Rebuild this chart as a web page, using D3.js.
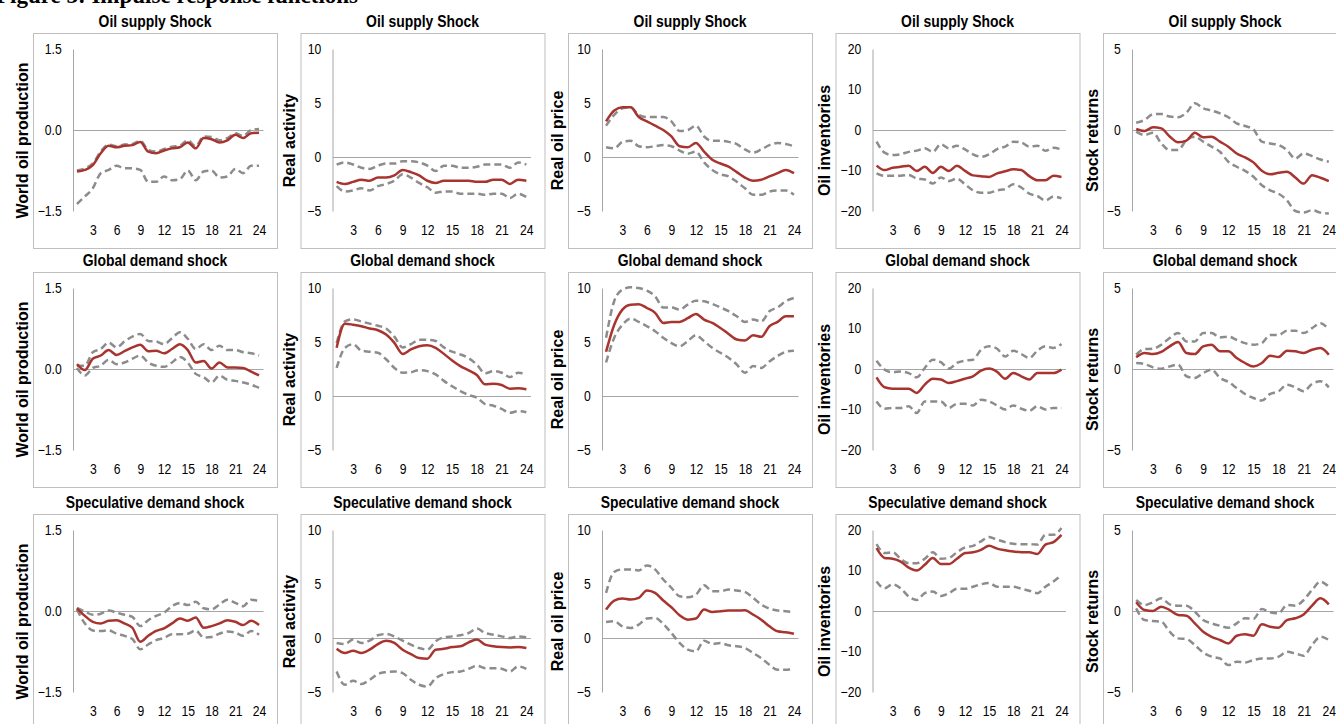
<!DOCTYPE html>
<html>
<head>
<meta charset="utf-8">
<script src="https://cdn.jsdelivr.net/npm/d3@7"></script>
<style>
    body { margin: 0; background: #fff; }
    svg { display: block; }
    .tick text { font-family: 'Liberation Sans', Arial, sans-serif; font-size: 14px; fill: #000; }
    .panel-title { font-family: 'Liberation Sans', Arial, sans-serif; font-size: 16px; font-weight: bold; }
    .var-label { font-family: 'Liberation Sans', Arial, sans-serif; font-size: 16px; font-weight: bold; }
</style>
</head>
<body>
<svg id="chart" width="1336" height="724"></svg>
<script>
// Horizons and labels
const horizons = d3.range(1, 25);
const xTickLabels = [3, 6, 9, 12, 15, 18, 21, 24];
const shocks = ['Oil supply Shock', 'Global demand shock', 'Speculative demand shock'];
const variables = ['World oil production', 'Real activity', 'Real oil price', 'Oil inventories', 'Stock returns'];
const yTicks = [[1.5, 0, -1.5], [10, 5, 0, -5], [10, 5, 0, -5], [20, 10, 0, -10, -20], [5, 0, -5]];

// Oil supply shock
const supProdMid = [-0.77,-0.74,-0.65,-0.43,-0.29,-0.32,-0.29,-0.28,-0.22,-0.40,-0.43,-0.38,-0.34,-0.32,-0.23,-0.34,-0.15,-0.17,-0.23,-0.19,-0.09,-0.15,-0.06,-0.05];
const supProdHi  = [-0.75,-0.71,-0.62,-0.40,-0.27,-0.30,-0.27,-0.26,-0.20,-0.37,-0.40,-0.35,-0.31,-0.29,-0.19,-0.30,-0.12,-0.13,-0.19,-0.15,-0.06,-0.11,0.00,0.02];
const supProdLo  = [-1.37,-1.23,-1.08,-0.80,-0.74,-0.66,-0.71,-0.71,-0.74,-0.96,-0.96,-0.86,-0.93,-0.91,-0.75,-0.93,-0.77,-0.75,-0.88,-0.86,-0.72,-0.80,-0.66,-0.66];
const supActMid = [-2.3,-2.5,-2.3,-2.1,-2.2,-1.9,-1.9,-1.7,-1.2,-1.4,-1.7,-2.2,-2.4,-2.2,-2.2,-2.2,-2.2,-2.3,-2.3,-2.1,-2.1,-2.5,-2.1,-2.2];
const supActHi  = [-0.7,-0.5,-0.7,-1.0,-1.1,-0.8,-0.6,-0.6,-0.4,-0.4,-0.5,-0.8,-1.3,-0.8,-0.8,-1.0,-1.0,-0.9,-0.7,-0.7,-0.7,-1.0,-0.5,-0.7];
const supActLo  = [-2.7,-3.2,-3.1,-2.9,-3.1,-2.7,-2.5,-2.2,-1.6,-1.9,-2.4,-2.8,-3.3,-3.2,-3.2,-3.4,-3.4,-3.4,-3.5,-3.4,-3.4,-3.8,-3.4,-3.7];
const supPriceMid = [3.3,4.3,4.6,4.6,3.7,3.3,2.9,2.5,1.9,1.0,0.9,1.3,0.5,-0.25,-0.6,-0.9,-1.4,-1.9,-2.2,-2.1,-1.8,-1.5,-1.2,-1.5];
const supPriceHi  = [2.9,3.9,4.5,4.6,3.9,3.7,3.7,3.7,3.3,2.4,2.5,2.9,1.9,1.5,1.5,1.4,1.2,0.7,0.4,0.7,1.1,1.3,1.2,1.0];
const supPriceLo  = [0.9,0.8,1.4,1.5,1.0,0.9,1.0,1.1,1.0,0.6,0.3,0.5,-0.5,-1.2,-1.6,-1.8,-2.3,-2.9,-3.5,-3.5,-3.2,-3.1,-3.1,-3.5];
const supInvMid = [-8.8,-9.9,-9.3,-9.1,-8.8,-10.1,-9.1,-10.6,-9.1,-10.1,-8.8,-10.1,-11.2,-11.4,-11.6,-10.7,-10.2,-9.7,-9.9,-11.4,-12.4,-12.4,-11.3,-11.6];
const supInvHi  = [-2.9,-5.6,-6.2,-6.0,-5.4,-5.1,-4.5,-5.4,-3.5,-4.5,-3.9,-4.8,-6.0,-6.6,-6.0,-4.7,-4.1,-2.9,-3.1,-4.1,-3.9,-5.1,-4.4,-4.8];
const supInvLo  = [-10.7,-11.3,-11.3,-11.3,-11.1,-12.0,-12.2,-13.2,-11.7,-12.6,-12.0,-13.4,-14.9,-15.5,-15.5,-14.9,-14.6,-13.4,-14.2,-15.7,-16.3,-17.4,-16.4,-16.9];
const supStockMid = [0.06,-0.06,0.17,0.10,-0.40,-0.76,-0.66,-0.17,-0.45,-0.41,-0.72,-1.03,-1.45,-1.69,-2.00,-2.52,-2.73,-2.64,-2.58,-2.93,-3.31,-2.79,-2.95,-3.16];
const supStockHi  = [0.45,0.62,0.97,0.99,0.83,0.79,1.07,1.65,1.34,1.20,1.03,0.79,0.41,0.25,0.04,-0.72,-0.83,-0.93,-1.24,-1.76,-1.45,-1.61,-1.82,-1.96];
const supStockLo  = [-0.10,-0.31,-0.17,-0.83,-1.24,-1.24,-0.62,-0.41,-0.72,-1.03,-1.34,-1.96,-2.27,-2.52,-2.89,-3.41,-3.72,-3.93,-4.34,-5.00,-5.10,-4.95,-5.10,-5.15];

// Global demand shock
const gloProdMid = [0.09,-0.02,0.19,0.25,0.35,0.26,0.33,0.40,0.45,0.33,0.34,0.29,0.37,0.46,0.35,0.12,0.15,0.01,0.12,0.03,0.03,0.02,-0.05,-0.12];
const gloProdHi  = [0.06,0.06,0.31,0.37,0.49,0.40,0.51,0.60,0.65,0.52,0.51,0.46,0.57,0.68,0.56,0.37,0.46,0.35,0.43,0.35,0.35,0.31,0.29,0.25];
const gloProdLo  = [0.02,-0.12,0.02,0.06,0.17,0.09,0.12,0.19,0.25,0.12,0.06,0.04,0.12,0.22,0.12,-0.09,-0.15,-0.25,-0.12,-0.20,-0.22,-0.25,-0.29,-0.35];
const gloActMid = [4.46,6.7,6.6,6.46,6.25,6.09,5.69,4.92,3.9,4.31,4.6,4.7,4.46,3.9,3.29,2.77,2.37,1.94,1.08,1.14,1.02,0.68,0.71,0.62];
const gloActHi  = [4.9,6.9,7.1,6.9,6.7,6.5,6.25,5.5,4.5,4.8,5.2,5.2,5.1,4.5,4.1,3.85,3.5,2.9,2.1,2.3,2.15,1.75,2.15,2.05];
const gloActLo  = [2.6,4.45,4.8,4.2,4.1,4.0,3.4,2.6,2.15,2.2,2.4,2.3,2.0,1.4,0.9,0.45,0.1,-0.15,-0.75,-0.9,-1.2,-1.55,-1.4,-1.5];
const gloPriceMid = [4.1,6.6,8.0,8.46,8.5,8.15,7.7,6.77,6.86,6.86,7.2,7.6,7.08,6.77,6.3,5.75,5.23,5.14,5.63,5.48,6.46,6.86,7.38,7.38];
const gloPriceHi  = [5.4,8.8,9.85,10.06,10.0,9.75,9.23,8.2,8.2,8.0,8.46,8.83,8.77,8.52,8.2,7.85,7.38,6.86,7.08,6.9,7.85,8.2,8.77,9.08];
const gloPriceLo  = [3.1,5.4,6.6,7.17,6.86,6.46,6.0,5.4,4.9,4.6,5.08,5.63,5.08,4.46,4.0,3.54,2.92,2.15,2.77,2.6,3.2,3.7,4.1,4.2];
const gloInvMid = [-2.05,-4.5,-4.85,-4.85,-4.85,-5.9,-3.85,-2.4,-2.6,-3.45,-3.0,-2.4,-1.8,-0.4,0.1,-0.7,-2.4,-1.0,-1.8,-2.6,-1.0,-1.0,-1.0,-0.15];
const gloInvHi  = [2.05,-0.15,-0.8,-0.6,-1.0,-2.05,0.25,2.3,1.7,0.1,1.5,2.05,2.3,4.75,5.6,5.0,3.1,4.5,3.7,2.7,4.5,5.6,5.2,6.2];
const gloInvLo  = [-8.0,-9.8,-9.6,-9.6,-9.2,-10.85,-8.0,-8.0,-8.0,-9.6,-8.6,-8.6,-9.0,-7.6,-8.0,-9.0,-10.0,-9.0,-9.8,-10.3,-9.2,-10.0,-9.6,-9.6];
const gloStockMid = [0.72,0.99,0.92,1.05,1.40,1.66,0.99,0.92,1.40,1.50,1.09,1.09,0.68,0.37,0.16,0.37,0.82,0.74,1.13,1.09,0.99,1.19,1.29,0.88];
const gloStockHi  = [0.88,1.23,1.25,1.50,1.91,2.22,1.70,1.70,2.22,2.22,1.95,2.00,1.80,1.60,1.50,1.60,2.10,2.10,2.36,2.36,2.22,2.52,2.83,2.42];
const gloStockLo  = [0.37,0.31,0.10,0.02,0.16,0.27,-0.45,-0.55,-0.25,-0.04,-0.55,-0.80,-1.17,-1.54,-1.79,-1.95,-1.54,-1.38,-0.97,-1.13,-1.38,-0.92,-0.76,-1.13];

// Speculative demand shock
const spcProdMid = [0.05,-0.09,-0.20,-0.23,-0.18,-0.17,-0.23,-0.31,-0.57,-0.46,-0.37,-0.32,-0.23,-0.14,-0.18,-0.12,-0.31,-0.28,-0.23,-0.17,-0.20,-0.26,-0.18,-0.26];
const spcProdHi  = [0.06,-0.01,-0.07,-0.05,0.01,-0.03,-0.07,-0.11,-0.28,-0.17,-0.09,-0.03,0.09,0.15,0.11,0.17,0.05,0.03,0.12,0.21,0.15,0.09,0.21,0.18];
const spcProdLo  = [0.03,-0.23,-0.36,-0.37,-0.36,-0.42,-0.46,-0.52,-0.71,-0.62,-0.54,-0.50,-0.43,-0.43,-0.42,-0.36,-0.49,-0.48,-0.42,-0.38,-0.40,-0.46,-0.37,-0.44];
const spcActMid = [-1.0,-1.4,-1.18,-1.4,-1.08,-0.56,-0.25,-0.46,-1.08,-1.49,-1.86,-1.92,-1.08,-1.0,-0.84,-0.77,-0.4,-0.15,-0.62,-0.77,-0.84,-0.87,-0.84,-0.93];
const spcActHi  = [-0.46,-0.56,-0.15,-0.46,-0.25,0.25,0.37,0.15,-0.25,-0.62,-0.93,-1.08,-0.31,0.06,0.15,0.25,0.46,0.87,0.46,0.31,0.15,0.0,0.15,0.06];
const spcActLo  = [-3.1,-4.33,-3.96,-4.27,-3.87,-3.34,-3.16,-3.1,-3.25,-3.87,-4.33,-4.49,-3.72,-3.34,-3.16,-3.1,-2.85,-2.57,-2.79,-2.79,-2.85,-3.1,-2.63,-2.85];
const spcPriceMid = [2.63,3.47,3.65,3.56,3.72,4.4,4.18,3.47,2.85,2.1,1.7,1.8,2.63,2.41,2.48,2.54,2.54,2.57,2.17,1.7,1.08,0.62,0.53,0.4];
const spcPriceHi  = [4.18,6.13,6.35,6.35,6.25,6.72,6.35,5.42,4.64,3.87,3.78,4.02,4.89,4.33,4.33,4.49,4.4,4.27,3.72,3.1,2.72,2.54,2.48,2.38];
const spcPriceLo  = [1.49,1.55,1.08,0.93,1.24,1.8,1.86,1.3,0.46,-0.46,-1.08,-1.24,-0.25,-0.56,-0.46,-0.68,-0.77,-0.93,-1.39,-1.86,-2.48,-2.94,-2.94,-2.79];
const spcInvMid = [15.5,13.1,12.9,12.2,10.7,10.0,11.4,13.1,11.6,11.6,12.9,14.3,14.5,15.1,16.1,15.4,15.0,14.7,14.5,14.5,14.1,16.4,17.0,18.8];
const spcInvHi  = [16.5,14.3,14.5,12.9,11.8,11.8,12.9,14.5,12.9,13.1,14.5,15.7,16.1,17.2,18.3,17.6,17.0,16.6,16.5,16.5,16.4,18.8,18.8,20.5];
const spcInvLo  = [7.3,5.6,6.6,5.6,3.6,2.7,4.4,4.8,3.7,4.4,5.5,5.5,6.0,6.6,6.9,6.0,6.0,6.0,5.5,5.0,4.4,6.0,7.3,8.9];
const spcStockMid = [0.54,0.06,0.0,0.27,0.06,-0.25,-0.29,-0.76,-1.28,-1.59,-1.79,-2.0,-1.53,-1.44,-1.53,-0.82,-0.97,-1.03,-0.56,-0.45,-0.21,0.33,0.78,0.41];
const spcStockHi  = [0.68,0.37,0.54,0.78,0.41,0.33,0.33,-0.04,-0.56,-0.76,-0.91,-1.03,-0.76,-0.45,-0.49,0.12,-0.08,-0.14,0.37,0.33,0.68,1.3,1.81,1.5];
const spcStockLo  = [0.16,-0.56,-0.62,-0.66,-1.28,-1.69,-1.73,-2.1,-2.56,-2.82,-2.93,-3.34,-3.13,-3.18,-3.03,-2.93,-2.93,-2.82,-2.52,-2.62,-2.76,-2.1,-1.59,-1.79];

// rows = shocks, cols = variables; each cell is [mid, lo, hi]
const grid = [
    [[supProdMid, supProdLo, supProdHi], [supActMid, supActLo, supActHi], [supPriceMid, supPriceLo, supPriceHi], [supInvMid, supInvLo, supInvHi], [supStockMid, supStockLo, supStockHi]],
    [[gloProdMid, gloProdLo, gloProdHi], [gloActMid, gloActLo, gloActHi], [gloPriceMid, gloPriceLo, gloPriceHi], [gloInvMid, gloInvLo, gloInvHi], [gloStockMid, gloStockLo, gloStockHi]],
    [[spcProdMid, spcProdLo, spcProdHi], [spcActMid, spcActLo, spcActHi], [spcPriceMid, spcPriceLo, spcPriceHi], [spcInvMid, spcInvLo, spcInvHi], [spcStockMid, spcStockLo, spcStockHi]]
];

// Layout (Excel-like boxes)
const boxW = 244, boxH = 215;
const rowTops = [33, 272, 514];
const colLeft = c => 33 + c * 267.5;
const axisOffset = [40, 32, 34, 37, 29];   // y axis distance from box left, depends on tick label width
const narrow = 0.87;                        // no Arial Narrow here, so squeeze the sans horizontally

const svg = d3.select('#chart');

// Figure caption, mostly cut off at the top like the source scan
svg.append('text')
    .attr('x', -4)
    .attr('y', 3)
    .style('font-family', "'Liberation Serif', serif")
    .style('font-size', '23px')
    .style('font-weight', 'bold')
    .text('Figure 3: Impulse response functions');

const fmt = c => c === 0 ? d3.format('.1f') : d3.format('d');

shocks.forEach((shock, r) => {
    variables.forEach((variable, c) => {
        const bx = colLeft(c), by = rowTops[r];
        const [mid, lo, hi] = grid[r][c];
        const ticks = yTicks[c];

        const g = svg.append('g');

        // panel frame
        g.append('rect')
            .attr('x', bx + 0.5).attr('y', by + 0.5)
            .attr('width', boxW).attr('height', boxH)
            .attr('fill', 'none')
            .attr('stroke', '#bfbfbf');

        g.append('text')
            .attr('class', 'panel-title')
            .attr('transform', `translate(${bx + boxW / 2},${by - 6}) scale(${narrow},1)`)
            .attr('text-anchor', 'middle')
            .text(shock);

        g.append('text')
            .attr('class', 'var-label')
            .attr('transform', `translate(${bx - 11},${by + boxH / 2}) rotate(-90)`)
            .attr('text-anchor', 'middle')
            .attr('dominant-baseline', 'central')
            .text(variable);

        const x = d3.scaleLinear()
            .domain([0.5, 24.5])
            .range([bx + axisOffset[c], bx + 230]);
        const y = d3.scaleLinear()
            .domain([d3.min(ticks), d3.max(ticks)])
            .range([by + 178, by + 16]);

        // y axis
        const yAxis = g.append('g')
            .attr('transform', `translate(${x(0.5)},0)`)
            .call(d3.axisLeft(y).tickValues(ticks).tickSize(0).tickPadding(13).tickFormat(fmt(c)));
        yAxis.select('.domain').attr('stroke', '#a6a6a6');
        yAxis.selectAll('.tick text').attr('transform', `scale(${narrow},1)`);

        // zero line
        const zero = g.append('g')
            .attr('transform', `translate(0,${y(0)})`)
            .call(d3.axisBottom(x).tickValues([]).tickSizeOuter(0));
        zero.select('.domain').attr('stroke', '#a6a6a6');

        // horizon labels at the bottom
        const xAxis = g.append('g')
            .attr('transform', `translate(0,${by + 192})`)
            .call(d3.axisBottom(x).tickValues(xTickLabels).tickSize(0).tickPadding(0));
        xAxis.select('.domain').remove();
        xAxis.selectAll('.tick text').attr('transform', `scale(${narrow},1)`);

        const line = d3.line()
            .x((d, i) => x(horizons[i]))
            .y(d => y(d))
            .curve(d3.curveMonotoneX);

        [hi, lo].forEach(band => {
            g.append('path')
                .datum(band)
                .attr('fill', 'none')
                .attr('stroke', '#8c8c8c')
                .attr('stroke-width', 2.5)
                .attr('stroke-dasharray', '7,4')
                .attr('d', line);
        });

        g.append('path')
            .datum(mid)
            .attr('fill', 'none')
            .attr('stroke', '#a8342f')
            .attr('stroke-width', 2.5)
            .attr('d', line);
    });
});
</script>
</body>
</html>
